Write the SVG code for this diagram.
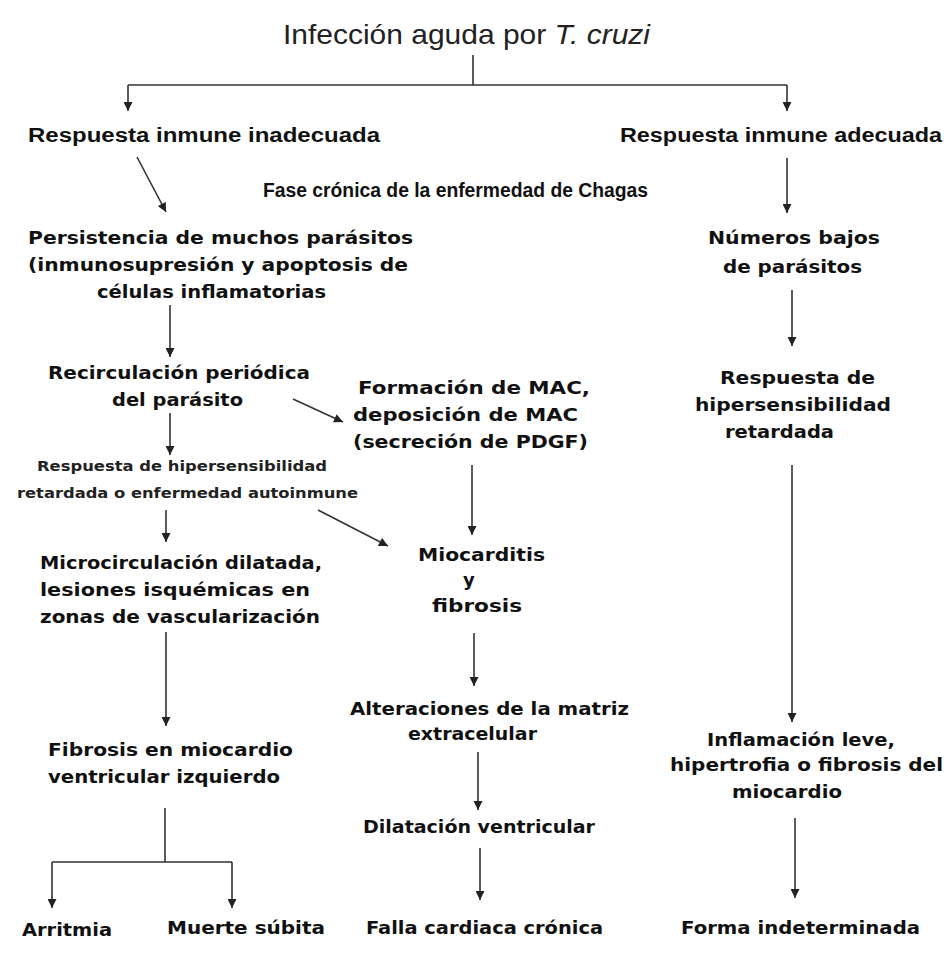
<svg xmlns="http://www.w3.org/2000/svg" width="944" height="953" viewBox="0 0 944 953">
<defs>
<marker id="ah" viewBox="0 0 10 10" refX="10" refY="5" markerWidth="10" markerHeight="9" markerUnits="userSpaceOnUse" orient="auto">
<path d="M0,0 L10,5 L0,10 z" fill="#222"/>
</marker>
<style>
.t{font-family:"DejaVu Sans","Liberation Sans",sans-serif;font-weight:bold;font-size:18px;fill:#111}
.s{font-family:"DejaVu Sans","Liberation Sans",sans-serif;font-weight:bold;font-size:14.5px;fill:#222}
.n{font-family:"Liberation Sans",Arial,sans-serif;font-weight:bold;font-size:20px;fill:#111}
.h{font-family:"Liberation Sans",Arial,sans-serif;font-size:28px;fill:#222}
.c{fill:none;stroke:#333;stroke-width:1.6}
.a{fill:none;stroke:#333;stroke-width:1.6;marker-end:url(#ah)}
</style>
</defs>
<rect width="944" height="953" fill="#fff"/>
<g id="connectors">
<path class="c" d="M473,55 V85 M128,85 H787"/>
<path class="a" d="M128,85 V111"/>
<path class="a" d="M787,85 V111"/>
<path class="a" d="M137,157 L166,212"/>
<path class="a" d="M787,158 V213"/>
<path class="a" d="M170,305 V357"/>
<path class="a" d="M293,399 L343,422"/>
<path class="a" d="M170,413 V455"/>
<path class="a" d="M472,465 V535"/>
<path class="a" d="M166,510 V542"/>
<path class="a" d="M318,510 L388,546"/>
<path class="a" d="M166,632 V726"/>
<path class="a" d="M474,633 V686"/>
<path class="a" d="M478,752 V810"/>
<path class="a" d="M480,848 V900"/>
<path class="c" d="M165,808 V862 M52,862 H232"/>
<path class="a" d="M52,862 V908"/>
<path class="a" d="M232,862 V908"/>
<path class="a" d="M792,290 V346"/>
<path class="a" d="M792,465 V722"/>
<path class="a" d="M795,818 V898"/>
</g>
<g id="n0"><text class="h" x="283" y="44" textLength="367" lengthAdjust="spacingAndGlyphs">Infección aguda por <tspan font-style="italic">T. cruzi</tspan></text></g>
<g id="n1"><text class="n" x="28" y="142" textLength="352" lengthAdjust="spacingAndGlyphs">Respuesta inmune inadecuada</text></g>
<g id="n2"><text class="n" x="620" y="142" textLength="322" lengthAdjust="spacingAndGlyphs">Respuesta inmune adecuada</text></g>
<g id="n3"><text class="n" x="263" y="197" textLength="385" lengthAdjust="spacingAndGlyphs">Fase crónica de la enfermedad de Chagas</text></g>
<g id="n4">
<text class="t" x="28" y="244" textLength="385" lengthAdjust="spacingAndGlyphs">Persistencia de muchos parásitos</text>
<text class="t" x="28" y="271" textLength="380" lengthAdjust="spacingAndGlyphs">(inmunosupresión y apoptosis de</text>
<text class="t" x="97" y="298" textLength="229" lengthAdjust="spacingAndGlyphs">células inflamatorias</text>
</g>
<g id="n5">
<text class="t" x="48" y="379" textLength="262" lengthAdjust="spacingAndGlyphs">Recirculación periódica</text>
<text class="t" x="112" y="406" textLength="131" lengthAdjust="spacingAndGlyphs">del parásito</text>
</g>
<g id="n6">
<text class="t" x="358" y="394" textLength="232" lengthAdjust="spacingAndGlyphs">Formación de MAC,</text>
<text class="t" x="353" y="421" textLength="225" lengthAdjust="spacingAndGlyphs">deposición de MAC</text>
<text class="t" x="353" y="448" textLength="235" lengthAdjust="spacingAndGlyphs">(secreción de PDGF)</text>
</g>
<g id="n7">
<text class="s" x="37" y="471" textLength="290" lengthAdjust="spacingAndGlyphs">Respuesta de hipersensibilidad</text>
<text class="s" x="17" y="498" textLength="341" lengthAdjust="spacingAndGlyphs">retardada  o enfermedad autoinmune</text>
</g>
<g id="n8">
<text class="t" x="40" y="569" textLength="282" lengthAdjust="spacingAndGlyphs">Microcirculación dilatada,</text>
<text class="t" x="40" y="596" textLength="270" lengthAdjust="spacingAndGlyphs">lesiones isquémicas en</text>
<text class="t" x="40" y="623" textLength="280" lengthAdjust="spacingAndGlyphs">zonas de vascularización</text>
</g>
<g id="n9">
<text class="t" x="418" y="561" textLength="127" lengthAdjust="spacingAndGlyphs">Miocarditis</text>
<text class="t" x="463" y="586">y</text>
<text class="t" x="432" y="612" textLength="90" lengthAdjust="spacingAndGlyphs">fibrosis</text>
</g>
<g id="n10">
<text class="t" x="350" y="715" textLength="279" lengthAdjust="spacingAndGlyphs">Alteraciones de la matriz</text>
<text class="t" x="408" y="740" textLength="129" lengthAdjust="spacingAndGlyphs">extracelular</text>
</g>
<g id="n11">
<text class="t" x="48" y="756" textLength="245" lengthAdjust="spacingAndGlyphs">Fibrosis en miocardio</text>
<text class="t" x="48" y="783" textLength="232" lengthAdjust="spacingAndGlyphs">ventricular izquierdo</text>
</g>
<g id="n12"><text class="t" x="363" y="833" textLength="232" lengthAdjust="spacingAndGlyphs">Dilatación ventricular</text></g>
<g id="n13"><text class="t" x="366" y="934" textLength="237" lengthAdjust="spacingAndGlyphs">Falla cardiaca crónica</text></g>
<g id="n14"><text class="t" x="22" y="936" textLength="90" lengthAdjust="spacingAndGlyphs">Arritmia</text></g>
<g id="n15"><text class="t" x="167" y="934" textLength="158" lengthAdjust="spacingAndGlyphs">Muerte súbita</text></g>
<g id="n16">
<text class="t" x="708" y="244" textLength="172" lengthAdjust="spacingAndGlyphs">Números bajos</text>
<text class="t" x="723" y="273" textLength="139" lengthAdjust="spacingAndGlyphs">de parásitos</text>
</g>
<g id="n17">
<text class="t" x="720" y="384" textLength="155" lengthAdjust="spacingAndGlyphs">Respuesta de</text>
<text class="t" x="695" y="411" textLength="196" lengthAdjust="spacingAndGlyphs">hipersensibilidad</text>
<text class="t" x="725" y="438" textLength="109" lengthAdjust="spacingAndGlyphs">retardada</text>
</g>
<g id="n18">
<text class="t" x="707" y="746" textLength="188" lengthAdjust="spacingAndGlyphs">Inflamación leve,</text>
<text class="t" x="670" y="771" textLength="273" lengthAdjust="spacingAndGlyphs">hipertrofia o fibrosis del</text>
<text class="t" x="732" y="798" textLength="110" lengthAdjust="spacingAndGlyphs">miocardio</text>
</g>
<g id="n19"><text class="t" x="681" y="934" textLength="239" lengthAdjust="spacingAndGlyphs">Forma indeterminada</text></g>
</svg>
